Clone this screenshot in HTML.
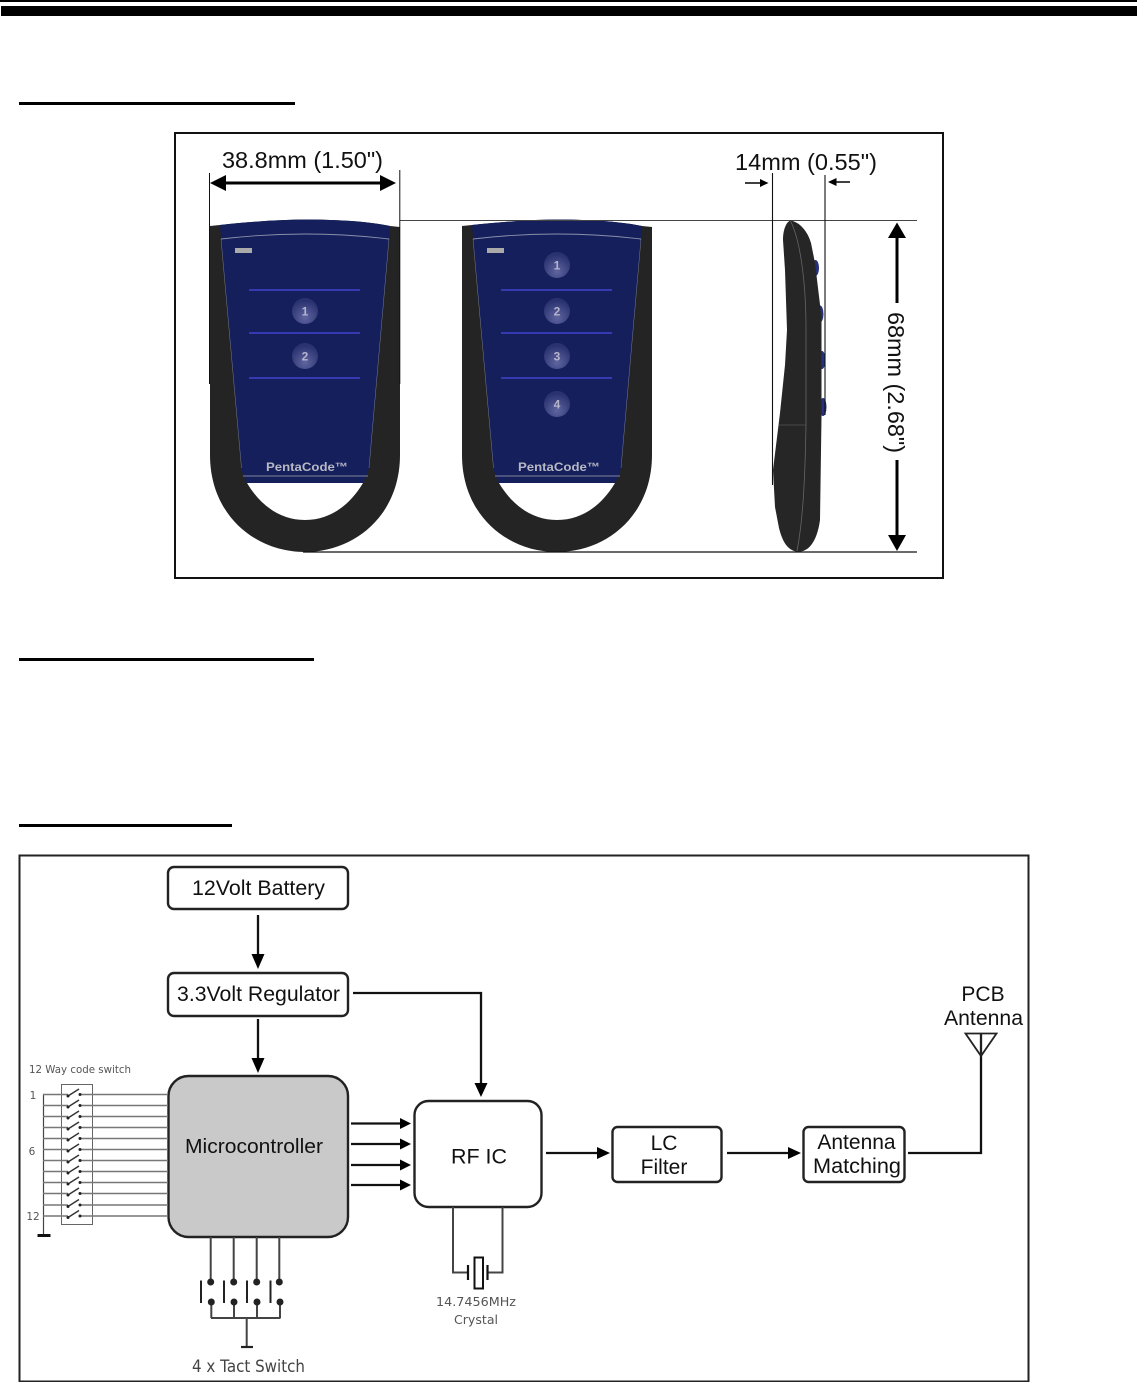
<!DOCTYPE html>
<html><head><meta charset="utf-8">
<style>
html,body{margin:0;padding:0;background:#fff}
svg{display:block}
text{font-family:"Liberation Sans",Arial,sans-serif;fill:#111}
.d{font-family:"DejaVu Sans",sans-serif;fill:#555}
.box{fill:#fff;stroke:#222;stroke-width:2.400}
.ln{fill:none;stroke:#111;stroke-width:2.300}
.g{fill:none;stroke:#444;stroke-width:2}
.r{fill:none;stroke:#777;stroke-width:1.500}
.k{fill:none;stroke:#333;stroke-width:1.400}
.sep{stroke:#4a4ae6;stroke-width:1.300}
.pc{font-weight:bold;font-size:12px;fill:#b8b8c4}
.n{font-size:12px;font-weight:bold;fill:#b4b4cc}
</style></head>
<body>
<svg width="1137" height="1382" viewBox="0 0 1137 1382" xmlns="http://www.w3.org/2000/svg">
<defs>
<radialGradient id="b" cx="50%" cy="75%" r="65%"><stop offset="0" stop-color="#5f659f"/><stop offset="1" stop-color="#2a3270"/></radialGradient>
<g id="remote">
<path d="M210 226 L220 225 Q285 218 330 220 Q365 221 390 226 L400 227 L400 455 C400 515 355 552 305 552 C255 552 210 515 210 455 Z" fill="#242424"/>
<path d="M220 225 Q285 218 330 220 Q365 221 390 226 L369 468 Q367 476 363 483 L247 483 Q243 476 241.500 468 Z" fill="#141f5c"/>
<path d="M247 483 L363 483 C350 505 330 520 305 520 C280 520 260 505 247 483 Z" fill="#fff"/>
<path d="M221 239 Q305 229 389 239" fill="none" stroke="#8a90aa" stroke-width=".9"/>
<path d="M221 239 L241.500 468 M389 239 L369 468" fill="none" stroke="#8f93a8" stroke-width=".4"/>
<path d="M243 476 H368" stroke="#6a7090" stroke-width="1.200"/>
<rect x="235" y="248" width="17" height="5" fill="#aaa"/>
<path class="sep" d="M249 290 H360 M249 333 H360 M249 378 H360"/>
<text class="pc" x="307" y="471" text-anchor="middle" textLength="82" lengthAdjust="spacingAndGlyphs">PentaCode™</text>
</g>
</defs>

<!-- header bars -->
<rect x="0" y="0" width="1137" height="2" fill="#000"/>
<rect x="1" y="6" width="1136" height="10" fill="#000"/>
<rect x="19" y="102" width="276" height="3" fill="#000"/>
<rect x="19" y="658" width="295" height="3" fill="#000"/>
<rect x="19" y="824" width="213" height="3" fill="#000"/>

<!-- dimensions panel -->
<rect x="175" y="133" width="768" height="445" fill="#fff" stroke="#111" stroke-width="2"/>
<use href="#remote"/>
<use href="#remote" x="252"/>
<circle cx="305" cy="311" r="13" fill="url(#b)"/><text class="n" x="305" y="315.500" text-anchor="middle">1</text>
<circle cx="305" cy="356" r="13" fill="url(#b)"/><text class="n" x="305" y="360.500" text-anchor="middle">2</text>
<circle cx="557" cy="265" r="13" fill="url(#b)"/><text class="n" x="557" y="269.500" text-anchor="middle">1</text>
<circle cx="557" cy="311" r="13" fill="url(#b)"/><text class="n" x="557" y="315.500" text-anchor="middle">2</text>
<circle cx="557" cy="356" r="13" fill="url(#b)"/><text class="n" x="557" y="360.500" text-anchor="middle">3</text>
<circle cx="557" cy="404" r="13" fill="url(#b)"/><text class="n" x="557" y="408.500" text-anchor="middle">4</text>

<path d="M400 220.500 H917" stroke="#444" stroke-width="1"/>
<path d="M303 552 H917" stroke="#111" stroke-width="1.200"/>
<path d="M209.500 173 V384 M399.800 170 V384" stroke="#111" stroke-width="1"/>
<path d="M210 183 L226 175 V181.500 H380 V175 L396 183 L380 191 V184.500 H226 V191 Z" fill="#000"/>
<text x="222" y="168" font-size="23.300" textLength="161" lengthAdjust="spacingAndGlyphs">38.8mm (1.50")</text>
<text x="735" y="170" font-size="23.500" textLength="142" lengthAdjust="spacingAndGlyphs">14mm (0.55")</text>

<!-- side view -->
<ellipse cx="815.500" cy="268" rx="3.500" ry="8" fill="#27307a"/>
<ellipse cx="820" cy="314" rx="3.500" ry="8.500" fill="#27307a"/>
<ellipse cx="822" cy="360" rx="3.500" ry="9" fill="#27307a"/>
<ellipse cx="823" cy="407" rx="3.500" ry="9" fill="#27307a"/>
<path d="M790.500 220.500 C800 222 808 232 811 243 L815 263 L821.500 317 L821.500 417 L820 520 C818 535 812 552 798 551.700 C787 551 782 540 779 528 L775 507 L773 470 L780 413 L785 365 L787 330 L785 270 L783 240 C783 230 786 222 790.500 220.500 Z" fill="#262626"/>
<path d="M790.500 221 C800 240 806 280 806 330 L806 425 C805 480 803 520 797 551" fill="none" stroke="#666" stroke-width=".8"/>
<path d="M779 425 H806" stroke="#555" stroke-width=".8"/>
<path d="M772.500 173 V485 M825 175 V415" stroke="#111" stroke-width="1.100"/>
<path d="M745 183 H761" stroke="#111" stroke-width="1.600"/><path d="M768.500 183 L760 179 V187 Z" fill="#000"/>
<path d="M835 182 H850" stroke="#111" stroke-width="1.600"/><path d="M828 182 L836.500 178 V186 Z" fill="#000"/>
<path d="M897 222.500 L906 238 H898.500 V303 H895.500 V238 H888 Z" fill="#000"/>
<path d="M897 551 L906 535 H898.500 V460 H895.500 V535 H888 Z" fill="#000"/>
<text transform="translate(888 312) rotate(90)" font-size="23.400" textLength="141" lengthAdjust="spacingAndGlyphs">68mm (2.68")</text>

<!-- block diagram -->
<rect x="19.500" y="855.500" width="1009" height="526" fill="#fff" stroke="#222" stroke-width="2"/>

<rect class="box" x="168" y="867" width="180" height="42" rx="6"/>
<text x="192" y="895" font-size="21.200" textLength="133" lengthAdjust="spacingAndGlyphs">12Volt Battery</text>
<path class="ln" d="M258 915 V956"/><path d="M258 969 L251.500 954 H264.500 Z" fill="#000"/>
<rect class="box" x="168" y="973" width="180" height="43" rx="6"/>
<text x="177" y="1001" font-size="21" textLength="163" lengthAdjust="spacingAndGlyphs">3.3Volt Regulator</text>
<path class="ln" d="M258 1019 V1060"/><path d="M258 1073 L251.500 1058 H264.500 Z" fill="#000"/>
<rect x="168.500" y="1076" width="179.500" height="161" rx="20" fill="#c9c9c9" stroke="#222" stroke-width="2.400"/>
<text x="185" y="1153" font-size="20.500" textLength="138" lengthAdjust="spacingAndGlyphs">Microcontroller</text>

<path class="ln" d="M353 993 H481 V1085"/><path d="M481 1097 L474.500 1083 H487.500 Z" fill="#000"/>
<rect class="box" x="414.500" y="1101" width="127" height="106" rx="14"/>
<text x="451" y="1163.500" font-size="21" textLength="56" lengthAdjust="spacingAndGlyphs">RF IC</text>

<g class="ln"><path d="M351 1123.500 H400 M351 1144 H400 M351 1165 H400 M351 1185 H400"/></g>
<path d="M411 1123.500 L400 1118 V1129 Z M411 1144 L400 1138.500 V1149.500 Z M411 1165 L400 1159.500 V1170.500 Z M411 1185 L400 1179.500 V1190.500 Z" fill="#000"/>

<path class="ln" d="M546 1153 H598"/><path d="M610 1153 L597 1147 V1159 Z" fill="#000"/>
<rect class="box" x="612.500" y="1127" width="109" height="55" rx="5"/>
<text x="664" y="1150" font-size="21" text-anchor="middle">LC</text>
<text x="664" y="1174" font-size="21" text-anchor="middle">Filter</text>
<path class="ln" d="M727 1153 H789"/><path d="M801 1153 L788 1147 V1159 Z" fill="#000"/>
<rect class="box" x="803.500" y="1127" width="101" height="55" rx="5"/>
<text x="856.500" y="1149" font-size="21" text-anchor="middle">Antenna</text>
<text x="857" y="1173" font-size="21" text-anchor="middle" textLength="88" lengthAdjust="spacingAndGlyphs">Matching</text>
<path class="ln" d="M908 1153 H981 V1034"/>
<path d="M965.500 1033.500 H996.500 L981 1056 Z M981 1034 V1056" fill="none" stroke="#222" stroke-width="1.800"/>
<text x="983" y="1001" font-size="21" text-anchor="middle">PCB</text>
<text x="983.500" y="1025" font-size="21" text-anchor="middle" textLength="79" lengthAdjust="spacingAndGlyphs">Antenna</text>

<!-- crystal -->
<path class="g" d="M453 1207 V1272.500 H468 M502.500 1207 V1272.500 H488"/>
<path d="M468 1265 V1280 M487.500 1265 V1280" stroke="#111" stroke-width="2.200"/>
<rect x="474.500" y="1257.500" width="8.500" height="31" fill="#fff" stroke="#111" stroke-width="2"/>
<text class="d" x="436" y="1306" font-size="12.500" textLength="80" lengthAdjust="spacingAndGlyphs">14.7456MHz</text>
<text class="d" x="454" y="1324" font-size="12.500" textLength="44" lengthAdjust="spacingAndGlyphs">Crystal</text>

<!-- code switch -->
<text class="d" x="29" y="1073" font-size="10.500" textLength="102" lengthAdjust="spacingAndGlyphs">12 Way code switch</text>
<rect x="61.500" y="1084.500" width="31" height="140" fill="none" stroke="#666" stroke-width="1"/>
<text class="d" x="33" y="1099" font-size="10.500" text-anchor="middle">1</text>
<text class="d" x="32" y="1155" font-size="10.500" text-anchor="middle">6</text>
<text class="d" x="33" y="1220" font-size="10.500" text-anchor="middle">12</text>
<path d="M43.500 1094.500 V1235" stroke="#444" stroke-width="1.200"/>
<rect x="37.500" y="1234" width="13" height="3" fill="#111"/>
<g>
<path class="r" d="M43 1094.500 H68 M80 1094.500 H168 M43 1105.500 H68 M80 1105.500 H168 M43 1116.500 H68 M80 1116.500 H168 M43 1127.500 H68 M80 1127.500 H168 M43 1138.500 H68 M80 1138.500 H168 M43 1149.500 H68 M80 1149.500 H168 M43 1160.500 H68 M80 1160.500 H168 M43 1171.500 H68 M80 1171.500 H168 M43 1182.500 H68 M80 1182.500 H168 M43 1193.500 H68 M80 1193.500 H168 M43 1205 H68 M80 1205 H168 M43 1216 H68 M80 1216 H168"/>
<path class="k" d="M68 1096 L79 1089 M68 1107 L79 1100 M68 1118 L79 1111 M68 1129 L79 1122 M68 1140 L79 1133 M68 1151 L79 1144 M68 1162 L79 1155 M68 1173 L79 1166 M68 1184 L79 1177 M68 1195 L79 1188 M68 1206.500 L79 1199.500 M68 1217.500 L79 1210.500"/>
<g fill="#222">
<circle cx="68" cy="1096" r="1.500"/><circle cx="80" cy="1094.500" r="1.500"/><circle cx="68" cy="1107" r="1.500"/><circle cx="80" cy="1105.500" r="1.500"/><circle cx="68" cy="1118" r="1.500"/><circle cx="80" cy="1116.500" r="1.500"/><circle cx="68" cy="1129" r="1.500"/><circle cx="80" cy="1127.500" r="1.500"/><circle cx="68" cy="1140" r="1.500"/><circle cx="80" cy="1138.500" r="1.500"/><circle cx="68" cy="1151" r="1.500"/><circle cx="80" cy="1149.500" r="1.500"/><circle cx="68" cy="1162" r="1.500"/><circle cx="80" cy="1160.500" r="1.500"/><circle cx="68" cy="1173" r="1.500"/><circle cx="80" cy="1171.500" r="1.500"/><circle cx="68" cy="1184" r="1.500"/><circle cx="80" cy="1182.500" r="1.500"/><circle cx="68" cy="1195" r="1.500"/><circle cx="80" cy="1193.500" r="1.500"/><circle cx="68" cy="1206.500" r="1.500"/><circle cx="80" cy="1205" r="1.500"/><circle cx="68" cy="1217.500" r="1.500"/><circle cx="80" cy="1216" r="1.500"/>
</g>
</g>

<!-- tact switches -->
<path class="g" d="M210.700 1237 V1282 M233.700 1237 V1282 M256.700 1237 V1282 M279.300 1237 V1282"/>
<path class="g" d="M211.300 1302 V1318 M234 1302 V1318 M257 1302 V1318 M280 1302 V1318 M211 1318 H280.500 M246.700 1318 V1347"/>
<path d="M241 1347 H253" stroke="#222" stroke-width="2.200"/>
<path d="M201 1280.500 V1303 M224 1280.500 V1303 M247 1280.500 V1303 M270.500 1280.500 V1303" stroke="#222" stroke-width="2"/>
<g fill="#222">
<circle cx="210.700" cy="1282" r="3.500"/><circle cx="233.700" cy="1282" r="3.500"/><circle cx="256.700" cy="1282" r="3.500"/><circle cx="279.300" cy="1282" r="3.500"/>
<circle cx="211.300" cy="1302" r="3.500"/><circle cx="234" cy="1302" r="3.500"/><circle cx="257" cy="1302" r="3.500"/><circle cx="280" cy="1302" r="3.500"/>
</g>
<text class="d" x="192" y="1372" font-size="17" textLength="113" lengthAdjust="spacingAndGlyphs" style="fill:#444">4 x Tact Switch</text>
</svg>
</body></html>
